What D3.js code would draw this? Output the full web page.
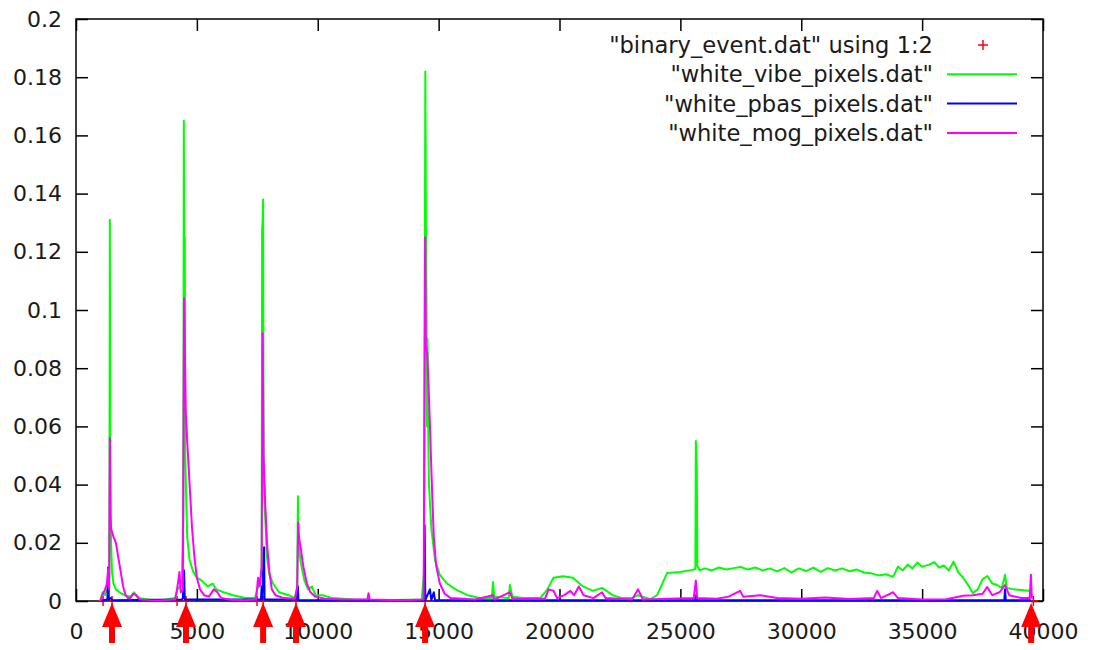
<!DOCTYPE html>
<html>
<head>
<meta charset="utf-8">
<script src="https://cdn.jsdelivr.net/npm/d3@7"></script>
<style>
    body { margin: 0; background: #fff; }
    svg { display: block; font-family: "DejaVu Sans", sans-serif; }
    .tick text { font-size: 22px; fill: #1a1a1a; }
    .legend text { font-size: 22.6px; fill: #1a1a1a; }
</style>
</head>
<body>
<div id="chart"></div>
<script>
// tick labels
const xTicks = [0, 5000, 10000, 15000, 20000, 25000, 30000, 35000, 40000];
const yTicks = [0, 0.02, 0.04, 0.06, 0.08, 0.1, 0.12, 0.14, 0.16, 0.18, 0.2];

// series names (legend order)
const seriesNames = ['"binary_event.dat" using 1:2', '"white_vibe_pixels.dat"', '"white_pbas_pixels.dat"', '"white_mog_pixels.dat"'];

// binary_event.dat, all at y = 0
const eventX = [1120, 1490, 4180, 4550, 7490, 7740, 9100, 14440, 39600];
// annotated events (big red arrows under the axis)
const arrowX = [1490, 4550, 7740, 9100, 14440, 39510];

// white_vibe_pixels.dat  [frame, ratio]
const vibe = [
    [1000, 0], [1100, 0.003], [1200, 0.002], [1280, 0.004], [1340, 0.003], [1380, 0.008], [1400, 0.131],
    [1420, 0.046], [1450, 0.02], [1490, 0.01], [1550, 0.006], [1650, 0.004], [1800, 0.003], [2000, 0.002],
    [2300, 0.0015], [2400, 0.003], [2550, 0.001], [3000, 0.0005], [3500, 0.0003], [4100, 0.001], [4200, 0.004],
    [4300, 0.005], [4380, 0.008], [4440, 0.03], [4460, 0.165], [4480, 0.12], [4500, 0.125], [4520, 0.05],
    [4560, 0.035], [4600, 0.022], [4700, 0.014], [4850, 0.01], [5000, 0.008], [5200, 0.007], [5450, 0.005],
    [5650, 0.006], [5800, 0.004], [6100, 0.003], [6500, 0.002], [7000, 0.001], [7400, 0.001], [7500, 0.004],
    [7600, 0.006], [7680, 0.01], [7700, 0.128], [7720, 0.13], [7740, 0.138], [7760, 0.046], [7820, 0.03],
    [7900, 0.015], [8000, 0.009], [8150, 0.006], [8400, 0.003], [8800, 0.002], [9050, 0.001], [9150, 0.004],
    [9180, 0.036], [9200, 0.02], [9300, 0.013], [9450, 0.007], [9600, 0.004], [9760, 0.005], [9900, 0.002],
    [10200, 0.002], [10600, 0.001], [11500, 0.0005], [12500, 0.0003], [14300, 0.0005], [14400, 0.01],
    [14450, 0.182], [14480, 0.12], [14500, 0.1], [14520, 0.06], [14540, 0.09], [14560, 0.065], [14600, 0.04],
    [14700, 0.025], [14850, 0.014], [15050, 0.009], [15350, 0.006], [15700, 0.004], [16200, 0.002],
    [16700, 0.001], [17200, 0.001], [17250, 0.0065], [17300, 0.0015], [17900, 0.001], [17950, 0.0055],
    [18050, 0.0015], [18500, 0.001], [19200, 0.001], [19500, 0.004], [19750, 0.008], [20150, 0.0085],
    [20550, 0.008], [20970, 0.005], [21390, 0.0035], [21760, 0.0045], [22200, 0.002], [22600, 0.001],
    [23000, 0.001], [23250, 0.002], [23750, 0.0006], [24040, 0.002], [24450, 0.0096], [25000, 0.010],
    [25500, 0.0107], [25620, 0.011], [25640, 0.055], [25680, 0.045], [25700, 0.012], [25800, 0.0105],
    [26000, 0.0112], [26300, 0.0105], [26600, 0.0115], [26900, 0.0108], [27200, 0.0113], [27500, 0.0117],
    [27800, 0.0108], [28100, 0.0115], [28400, 0.0105], [28700, 0.0112], [29000, 0.0102], [29300, 0.0113],
    [29600, 0.0098], [29900, 0.0112], [30200, 0.0103], [30500, 0.0115], [30800, 0.0100], [31100, 0.0113],
    [31400, 0.0105], [31700, 0.0112], [32000, 0.0102], [32300, 0.0108], [32600, 0.0098], [32900, 0.0095],
    [33200, 0.0088], [33500, 0.0092], [33800, 0.0083], [34000, 0.0118], [34200, 0.0105], [34400, 0.0125],
    [34600, 0.0112], [34800, 0.0132], [35000, 0.0118], [35300, 0.0125], [35500, 0.0134], [35700, 0.0115],
    [35900, 0.0122], [36100, 0.0105], [36300, 0.0135], [36500, 0.0098], [36700, 0.008], [36900, 0.0055],
    [37100, 0.0027], [37300, 0.004], [37500, 0.0075], [37700, 0.0086], [37900, 0.006], [38100, 0.0055],
    [38300, 0.0045], [38430, 0.009], [38500, 0.0045], [38800, 0.004], [39100, 0.0038], [39400, 0.0035],
    [39500, 0.004]
];

// white_pbas_pixels.dat
const pbas = [
    [1000, 0], [1300, 0.0005], [1330, 0.0115], [1360, 0.0005], [1440, 0.001], [1500, 0.0003], [4380, 0.0005],
    [4420, 0.001], [4470, 0.0105], [4500, 0.0005], [7650, 0.0005], [7680, 0.005], [7700, 0.0005],
    [7780, 0.0185], [7800, 0.0005], [9150, 0.0005], [9180, 0.005], [9200, 0.0003], [14400, 0.0003],
    [14420, 0.026], [14450, 0.0003], [14640, 0.004], [14700, 0.0003], [14800, 0.003], [14850, 0.0003],
    [25600, 0.0003], [25640, 0.002], [25680, 0.0003], [38400, 0.0003], [38430, 0.004], [38460, 0.0003],
    [39500, 0.0003]
];

// white_mog_pixels.dat
const mog = [
    [1000, 0], [1100, 0.002], [1200, 0.004], [1280, 0.006], [1330, 0.011], [1370, 0.004], [1400, 0.056],
    [1420, 0.03], [1450, 0.025], [1550, 0.022], [1650, 0.02], [1750, 0.015], [1850, 0.01], [1950, 0.005],
    [2050, 0.002], [2150, 0.001], [2250, 0.001], [2350, 0.0025], [2500, 0.002], [2650, 0.0005], [3000, 0.0003],
    [3500, 0.0002], [4100, 0.0005], [4180, 0.004], [4280, 0.01], [4330, 0.003], [4420, 0.004], [4470, 0.104],
    [4500, 0.09], [4540, 0.065], [4600, 0.055], [4700, 0.04], [4800, 0.025], [4900, 0.015], [5000, 0.008],
    [5130, 0.004], [5300, 0.002], [5500, 0.0015], [5700, 0.004], [5850, 0.003], [6000, 0.001], [6400, 0.0004],
    [7000, 0.0003], [7450, 0.0005], [7530, 0.008], [7600, 0.005], [7680, 0.012], [7720, 0.092], [7760, 0.05],
    [7820, 0.035], [7900, 0.02], [8000, 0.01], [8100, 0.004], [8250, 0.002], [8600, 0.001], [9050, 0.0008],
    [9150, 0.005], [9190, 0.027], [9220, 0.022], [9300, 0.018], [9400, 0.012], [9550, 0.006], [9700, 0.003],
    [9900, 0.0015], [10300, 0.0008], [11000, 0.0005], [12050, 0.0005], [12100, 0.0027], [12150, 0.0005],
    [13500, 0.0003], [14380, 0.0005], [14440, 0.125], [14470, 0.088], [14530, 0.085], [14600, 0.07],
    [14650, 0.058], [14700, 0.045], [14750, 0.033], [14800, 0.022], [14900, 0.012], [15050, 0.006],
    [15250, 0.0025], [15500, 0.001], [16500, 0.0005], [17250, 0.002], [17300, 0.0005], [17950, 0.003],
    [18050, 0.0008], [19400, 0.0008], [19550, 0.004], [19750, 0.0035], [19900, 0.001], [20200, 0.002],
    [20450, 0.0035], [20600, 0.002], [20800, 0.005], [21000, 0.002], [21400, 0.001], [21760, 0.003],
    [21900, 0.001], [23000, 0.0005], [23250, 0.004], [23450, 0.0005], [25550, 0.001], [25640, 0.007],
    [25700, 0.001], [26500, 0.0008], [27000, 0.0015], [27470, 0.0035], [27600, 0.0015], [28300, 0.002],
    [29000, 0.001], [30000, 0.0008], [31000, 0.0012], [32000, 0.0007], [33000, 0.001], [33140, 0.0035],
    [33300, 0.001], [33800, 0.003], [34000, 0.001], [35000, 0.0005], [36000, 0.0006], [36700, 0.0018],
    [37100, 0.002], [37500, 0.0025], [37690, 0.0048], [37900, 0.002], [38200, 0.003], [38430, 0.0055],
    [38600, 0.002], [39100, 0.001], [39450, 0.001], [39500, 0.009], [39540, 0.0008]
];

const width = 1093;
const height = 650;
const margin = {top: 19, right: 50, bottom: 49, left: 76};

const svg = d3.select("#chart")
    .append("svg")
    .attr("width", width)
    .attr("height", height);

const xScale = d3.scaleLinear()
    .domain([0, 40000])
    .range([margin.left, width - margin.right]);

const yScale = d3.scaleLinear()
    .domain([0, 0.2])
    .range([height - margin.bottom, margin.top]);

const plotW = width - margin.right - margin.left;
const plotH = height - margin.bottom - margin.top;

// axes, ticks pointing inward like gnuplot
const bottomAxis = svg.append("g")
    .attr("transform", `translate(0,${height - margin.bottom})`)
    .call(d3.axisBottom(xScale).tickValues(xTicks).tickSize(-12).tickPadding(22).tickFormat(d3.format("d")));

const topAxis = svg.append("g")
    .attr("transform", `translate(0,${margin.top})`)
    .call(d3.axisTop(xScale).tickValues(xTicks).tickSize(-12).tickFormat(""));

const leftAxis = svg.append("g")
    .attr("transform", `translate(${margin.left},0)`)
    .call(d3.axisLeft(yScale).tickValues(yTicks).tickSize(-12).tickPadding(14).tickFormat(d => +d.toFixed(2)));

const rightAxis = svg.append("g")
    .attr("transform", `translate(${width - margin.right},0)`)
    .call(d3.axisRight(yScale).tickValues(yTicks).tickSize(-12).tickFormat(""));

// let the css font win over d3's axis defaults
[bottomAxis, topAxis, leftAxis, rightAxis].forEach(g => g.attr("font-family", null).attr("font-size", null));
svg.selectAll(".domain").remove();
svg.selectAll(".tick line").attr("stroke", "#000").attr("stroke-width", 1.5);

svg.append("rect")
    .attr("x", margin.left)
    .attr("y", margin.top)
    .attr("width", plotW)
    .attr("height", plotH)
    .attr("fill", "none")
    .attr("stroke", "#000")
    .attr("stroke-width", 1.5);

svg.append("clipPath")
    .attr("id", "plot-clip")
    .append("rect")
    .attr("x", margin.left)
    .attr("y", margin.top)
    .attr("width", plotW)
    .attr("height", plotH + 2);

const line = d3.line()
    .x(d => xScale(d[0]))
    .y(d => yScale(d[1]));

// event points "+"
const plus = svg.append("g");
eventX.forEach(function(d) {
    plus.append("path")
        .attr("d", `M${xScale(d) - 5},${yScale(0)}h10M${xScale(d)},${yScale(0) - 5}v10`)
        .attr("stroke", "#ff0000")
        .attr("stroke-width", 1.5)
        .attr("fill", "none");
});

const series = [
    {data: vibe, color: "#00ff00"},
    {data: pbas, color: "#0000ff"},
    {data: mog, color: "#ff00ff"}
];

series.forEach(function(s) {
    svg.append("path")
        .datum(s.data)
        .attr("clip-path", "url(#plot-clip)")
        .attr("d", line)
        .attr("fill", "none")
        .attr("stroke", s.color)
        .attr("stroke-width", 2)
        .attr("stroke-linejoin", "round");
});

// legend
const legend = svg.append("g").attr("class", "legend");
const legendRight = 933;
const legendY = 45;
const legendGap = 29.3;
const legendColors = ["#ff0000", "#00ff00", "#0000ff", "#ff00ff"];

seriesNames.forEach(function(d, i) {
    const y = legendY + legendGap * i;
    legend.append("text")
        .attr("x", legendRight)
        .attr("y", y)
        .attr("dy", "0.36em")
        .attr("text-anchor", "end")
        .text(d);

    if (i === 0) {
        legend.append("path")
            .attr("d", `M${983 - 5},${y}h10M983,${y - 5}v10`)
            .attr("stroke", legendColors[i])
            .attr("stroke-width", 1.5);
    } else {
        legend.append("line")
            .attr("x1", 947)
            .attr("x2", 1017)
            .attr("y1", y)
            .attr("y2", y)
            .attr("stroke", legendColors[i])
            .attr("stroke-width", 2);
    }
});

// red arrows marking the events
const arrows = svg.append("g");
arrowX.forEach(function(d) {
    const cx = xScale(d);
    const tip = yScale(0) + 2;
    arrows.append("path")
        .attr("d", `M${cx},${tip} L${cx + 10},${tip + 24} L${cx + 3},${tip + 24} L${cx + 3},${tip + 40} L${cx - 3},${tip + 40} L${cx - 3},${tip + 24} L${cx - 10},${tip + 24} Z`)
        .attr("fill", "#ff0000");
});
</script>
</body>
</html>
